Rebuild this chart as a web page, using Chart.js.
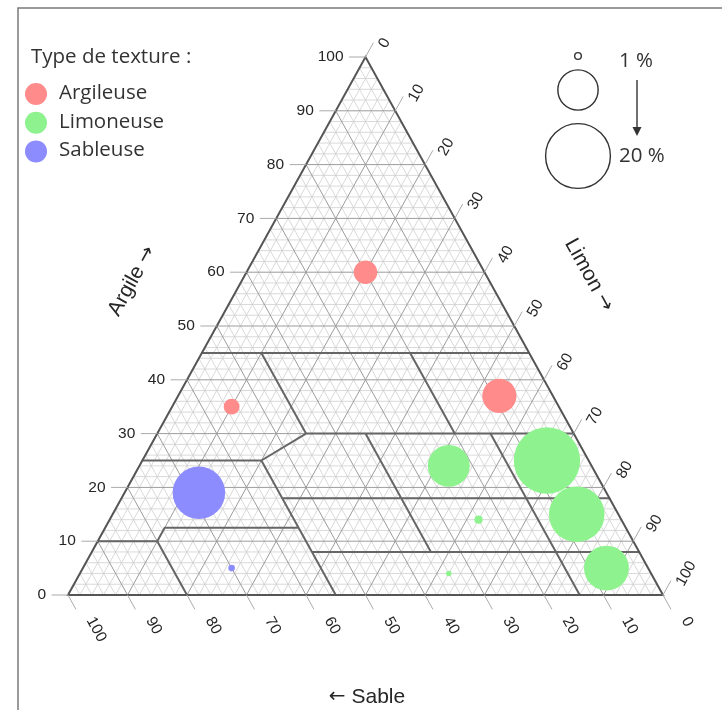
<!DOCTYPE html>
<html>
<head>
<meta charset="utf-8">
<script src="https://cdn.jsdelivr.net/npm/chart.js@4.4.1/dist/chart.umd.min.js"></script>
<style>
  html, body { margin: 0; padding: 0; background: #fff; }
  canvas { display: block; }
</style>
</head>
<body>
<canvas id="c" width="722" height="710"></canvas>
<script>
// Soil samples: clay %, silt % (sand is the remainder) and share of the sample set (%)
const argClay  = [60, 35, 37];
const argSilt  = [20, 10, 54];
const argShare = [6.5, 4, 10];

const limClay  = [24, 25, 15, 5, 14, 4];
const limSilt  = [52, 68, 78, 88, 62, 62];
const limShare = [12.5, 20.5, 17, 13.5, 1.5, 0.6];

const sabClay  = [19, 5];
const sabSilt  = [12.5, 25];
const sabShare = [16, 1];

// Axis ticks (percent)
const tickValues = [0, 10, 20, 30, 40, 50, 60, 70, 80, 90, 100];

// Texture class boundaries: [clayA, siltA, clayB, siltB]
const classLines = [
  [45, 0, 45, 55],
  [45, 10, 30, 25],
  [45, 35, 30, 50],
  [30, 25, 30, 70],
  [30, 25, 25, 20],
  [25, 0, 25, 20],
  [25, 20, 0, 45],
  [12.5, 10, 12.5, 32.5],
  [10, 10, 12.5, 10],
  [10, 0, 10, 10],
  [10, 10, 0, 20],
  [30, 35, 8, 57],
  [30, 56, 0, 86],
  [18, 27, 18, 82],
  [8, 37, 8, 92]
];

// Size key
const keyShares = [1, 12, 20];
const keyLabels = ['1 %', '20 %'];

const legendTitle  = 'Type de texture :';
const legendNames  = ['Argileuse', 'Limoneuse', 'Sableuse'];
const legendColors = ['#ff8b8b', '#8ef28e', '#8c8cff'];

function radiusOf(share) { return 1.8 + 1.53 * share; }

function toPoints(clay, silt, share) {
  return clay.map((c, i) => ({ x: silt[i] + c / 2, y: c, r: radiusOf(share[i]) }));
}

const LABEL_FONT = '15.5px "Liberation Sans", Arial, sans-serif';
const TITLE_FONT = '21px "Liberation Sans", Arial, sans-serif';
const ARROW_FONT = '20px "DejaVu Sans", sans-serif';
const KEY_FONT = '20.5px "Open Sans", sans-serif';

// draws a text run made of parts with their own fonts, centred on the origin
function drawTitle(ctx, parts) {
  let total = 0;
  const widths = parts.map(p => { ctx.font = p.font; const w = ctx.measureText(p.text).width; total += w; return w; });
  let x = -total / 2;
  parts.forEach((p, i) => {
    ctx.font = p.font;
    ctx.textAlign = 'left';
    ctx.fillText(p.text, x, 0);
    x += widths[i];
  });
}

const ternaryPlugin = {
  id: 'ternary',
  beforeDatasetsDraw(chart) {
    const ctx = chart.ctx;
    const xs = chart.scales.x, ys = chart.scales.y;
    const P = (clay, silt) => ({ x: xs.getPixelForValue(silt + clay / 2), y: ys.getPixelForValue(clay) });
    const seg = (a, b) => { ctx.moveTo(a.x, a.y); ctx.lineTo(b.x, b.y); };

    ctx.save();
    // outer frame
    ctx.strokeStyle = '#7a7a7a';
    ctx.lineWidth = 1.5;
    ctx.strokeRect(18, 8, 760, 760);

    // grid: fine then coarse
    const families = (step, skip) => {
      ctx.beginPath();
      for (let v = step; v < 100; v += step) {
        if (skip && v % 10 === 0) continue;
        seg(P(v, 0), P(v, 100 - v));           // constant clay
        seg(P(0, v), P(100 - v, v));           // constant silt
        seg(P(0, 100 - v), P(100 - v, 0));     // constant sand
      }
      ctx.stroke();
    };
    ctx.strokeStyle = '#cfcfcf';
    ctx.lineWidth = 0.8;
    families(2, true);
    ctx.strokeStyle = '#9c9c9c';
    ctx.lineWidth = 1;
    families(10, false);

    // class boundaries
    ctx.strokeStyle = '#666';
    ctx.lineWidth = 2;
    ctx.lineCap = 'round';
    ctx.beginPath();
    classLines.forEach(l => seg(P(l[0], l[1]), P(l[2], l[3])));
    ctx.stroke();

    // triangle outline
    ctx.strokeStyle = '#555';
    ctx.lineWidth = 2;
    ctx.beginPath();
    const A = P(0, 0), B = P(100, 0), C = P(0, 100);
    ctx.moveTo(A.x, A.y); ctx.lineTo(B.x, B.y); ctx.lineTo(C.x, C.y); ctx.closePath();
    ctx.stroke();

    // ticks
    const tl = 16;
    const up = (() => { const a = P(0, 50), b = P(1, 50); const d = Math.hypot(b.x - a.x, b.y - a.y); return { x: (b.x - a.x) / d, y: (b.y - a.y) / d }; })();
    const dn = { x: up.x, y: -up.y };
    ctx.strokeStyle = '#aaaaaa';
    ctx.lineWidth = 1;
    ctx.beginPath();
    tickValues.forEach(v => {
      const e1 = P(v, 0); seg(e1, { x: e1.x - tl, y: e1.y });
      const e2 = P(100 - v, v); seg(e2, { x: e2.x + up.x * tl, y: e2.y + up.y * tl });
      const e3 = P(0, 100 - v); seg(e3, { x: e3.x + dn.x * tl, y: e3.y + dn.y * tl });
    });
    ctx.stroke();

    // tick labels
    ctx.fillStyle = '#262626';
    ctx.font = LABEL_FONT;
    ctx.textBaseline = 'middle';
    const angUp = Math.atan2(up.y, up.x);
    const angDn = Math.atan2(dn.y, dn.x);
    tickValues.forEach(v => {
      const t = String(v);
      const w = ctx.measureText(t).width;
      // clay (left)
      const e1 = P(v, 0);
      ctx.textAlign = 'right';
      ctx.fillText(t, e1.x - 22, e1.y);
      // silt (right)
      const e2 = P(100 - v, v);
      const pr = { x: -up.y, y: up.x };
      const a2 = 17 + w / 2, b2 = 10;
      ctx.save();
      ctx.translate(e2.x + up.x * a2 + pr.x * b2, e2.y + up.y * a2 + pr.y * b2);
      ctx.rotate(angUp);
      ctx.textAlign = 'center';
      ctx.fillText(t, 0, 0);
      ctx.restore();
      // sand (bottom)
      const e3 = P(0, 100 - v);
      const pb = { x: dn.y, y: -dn.x };
      const a3 = 31 + w / 2, b3 = 8;
      ctx.save();
      ctx.translate(e3.x + dn.x * a3 + pb.x * b3, e3.y + dn.y * a3 + pb.y * b3);
      ctx.rotate(angDn);
      ctx.textAlign = 'center';
      ctx.fillText(t, 0, 0);
      ctx.restore();
    });

    // axis titles
    ctx.save();
    ctx.translate(132, 281);
    ctx.rotate(angUp);
    drawTitle(ctx, [{ text: 'Argile ', font: TITLE_FONT }, { text: '\u2192', font: ARROW_FONT }]);
    ctx.restore();
    ctx.save();
    ctx.translate(589, 275);
    ctx.rotate(angDn);
    drawTitle(ctx, [{ text: 'Limon ', font: TITLE_FONT }, { text: '\u2192', font: ARROW_FONT }]);
    ctx.restore();
    ctx.save();
    ctx.translate(367, 697);
    drawTitle(ctx, [{ text: '\u2190', font: ARROW_FONT }, { text: ' Sable', font: TITLE_FONT }]);
    ctx.restore();
    ctx.restore();
  },
  afterDatasetsDraw(chart) {
    const ctx = chart.ctx;
    ctx.save();
    // colour key
    ctx.fillStyle = '#333';
    ctx.font = KEY_FONT;
    ctx.textBaseline = 'middle';
    ctx.textAlign = 'left';
    ctx.fillText(legendTitle, 31, 57);
    legendNames.forEach((n, i) => {
      const y = 94 + i * 28.7;
      ctx.fillStyle = legendColors[i];
      ctx.beginPath(); ctx.arc(36, y, 11, 0, Math.PI * 2); ctx.fill();
      ctx.fillStyle = '#333';
      ctx.fillText(n, 59, y - 1);
    });

    // size key
    ctx.strokeStyle = '#333';
    ctx.lineWidth = 1.4;
    const keyY = [56, 90, 156];
    keyShares.forEach((s, i) => {
      ctx.beginPath(); ctx.arc(578, keyY[i], radiusOf(s), 0, Math.PI * 2); ctx.stroke();
    });
    ctx.fillStyle = '#333';
    ctx.fillText(keyLabels[0], 619, 61);
    ctx.fillText(keyLabels[1], 619, 156);
    ctx.beginPath(); ctx.moveTo(637, 80); ctx.lineTo(637, 128); ctx.stroke();
    ctx.beginPath(); ctx.moveTo(632.5, 127); ctx.lineTo(641.5, 127); ctx.lineTo(637, 136); ctx.closePath(); ctx.fill();
    ctx.restore();
  }
};

new Chart(document.getElementById('c'), {
  type: 'bubble',
  data: {
    datasets: [
      { label: legendNames[0], data: toPoints(argClay, argSilt, argShare), backgroundColor: legendColors[0], borderWidth: 0, clip: false },
      { label: legendNames[1], data: toPoints(limClay, limSilt, limShare), backgroundColor: legendColors[1], borderWidth: 0, clip: false },
      { label: legendNames[2], data: toPoints(sabClay, sabSilt, sabShare), backgroundColor: legendColors[2], borderWidth: 0, clip: false }
    ]
  },
  options: {
    responsive: false,
    animation: false,
    devicePixelRatio: 1,
    layout: { padding: { left: 68, right: 59, top: 57, bottom: 115 } },
    scales: {
      x: { type: 'linear', min: 0, max: 100, display: false },
      y: { type: 'linear', min: 0, max: 100, display: false }
    },
    plugins: { legend: { display: false }, tooltip: { enabled: false } },
    elements: { point: { hoverRadius: 0 } }
  },
  plugins: [ternaryPlugin]
});
</script>
</body>
</html>
